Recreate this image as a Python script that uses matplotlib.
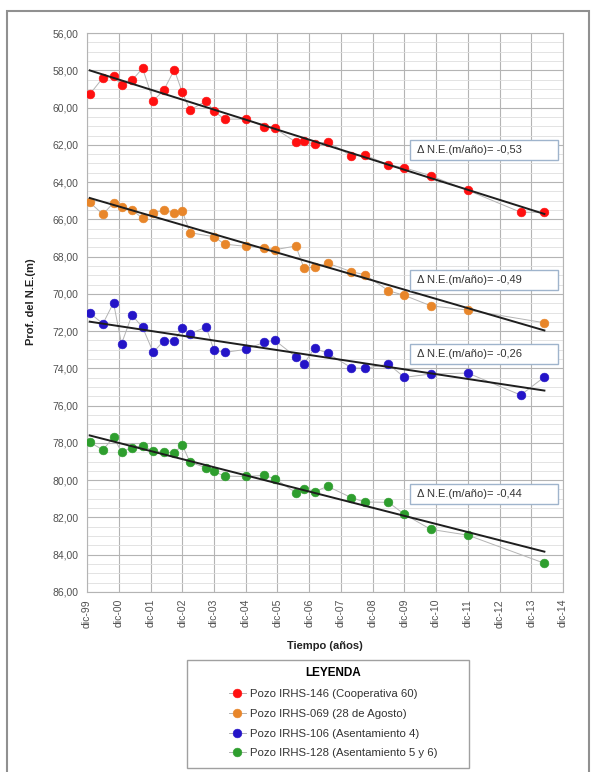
import numpy as np
import pandas as pd
import matplotlib
matplotlib.use('Agg')
import matplotlib.pyplot as plt
import matplotlib.dates as mdates
from matplotlib.patches import Rectangle
from matplotlib.ticker import FuncFormatter, MultipleLocator

plt.rcParams['font.family'] = ['Liberation Sans', 'DejaVu Sans']

# --- datos (profundidad del nivel estatico, m) ---
pozos = ["Pozo IRHS-146 (Cooperativa 60)",
         "Pozo IRHS-069 (28 de Agosto)",
         "Pozo IRHS-106 (Asentamiento 4)",
         "Pozo IRHS-128 (Asentamiento 5 y 6)"]
colores = ["#ff1010", "#e8862a", "#2414c8", "#2e9e2e"]
tasas = [-0.53, -0.49, -0.26, -0.44]

fechas_146 = ["2000-01", "2000-06", "2000-10", "2001-01", "2001-05", "2001-09", "2002-01",
              "2002-05", "2002-09", "2002-12", "2003-03", "2003-09", "2003-12", "2004-04",
              "2004-12", "2005-07", "2005-11", "2006-07", "2006-10", "2007-02", "2007-07",
              "2008-04", "2008-09", "2009-06", "2009-12", "2010-10", "2011-12", "2013-08",
              "2014-05"]
prof_146 = [59.29, 58.40, 58.31, 58.81, 58.54, 57.89, 59.63, 59.08, 57.97, 59.18, 60.13,
            59.65, 60.20, 60.62, 60.62, 61.03, 61.12, 61.85, 61.80, 61.97, 61.83, 62.60,
            62.55, 63.07, 63.23, 63.66, 64.44, 65.62, 65.62]

fechas_069 = ["2000-01", "2000-06", "2000-10", "2001-01", "2001-05", "2001-09", "2002-01",
              "2002-05", "2002-09", "2002-12", "2003-03", "2003-12", "2004-04", "2004-12",
              "2005-07", "2005-11", "2006-07", "2006-10", "2007-02", "2007-07", "2008-04",
              "2008-09", "2009-06", "2009-12", "2010-10", "2011-12", "2014-05"]
prof_069 = [65.09, 65.73, 65.11, 65.32, 65.48, 65.95, 65.65, 65.52, 65.65, 65.55, 66.72,
            66.93, 67.33, 67.45, 67.52, 67.63, 67.43, 68.60, 68.58, 68.35, 68.81, 68.97,
            69.83, 70.08, 70.64, 70.87, 71.55]

fechas_106 = ["2000-01", "2000-06", "2000-10", "2001-01", "2001-05", "2001-09", "2002-01",
              "2002-05", "2002-09", "2002-12", "2003-03", "2003-09", "2003-12", "2004-04",
              "2004-12", "2005-07", "2005-11", "2006-07", "2006-10", "2007-02", "2007-07",
              "2008-04", "2008-09", "2009-06", "2009-12", "2010-10", "2011-12", "2013-08",
              "2014-05"]
prof_106 = [71.03, 71.60, 70.48, 72.68, 71.14, 71.80, 73.14, 72.52, 72.53, 71.85, 72.14,
            71.78, 73.02, 73.14, 72.98, 72.60, 72.49, 73.38, 73.75, 72.92, 73.18, 73.97,
            74.00, 73.77, 74.48, 74.30, 74.25, 75.43, 74.46]

fechas_128 = ["2000-01", "2000-06", "2000-10", "2001-01", "2001-05", "2001-09", "2002-01",
              "2002-05", "2002-09", "2002-12", "2003-03", "2003-09", "2003-12", "2004-04",
              "2004-12", "2005-07", "2005-11", "2006-07", "2006-10", "2007-02", "2007-07",
              "2008-04", "2008-09", "2009-06", "2009-12", "2010-10", "2011-12", "2014-05"]
prof_128 = [77.97, 78.37, 77.70, 78.47, 78.26, 78.15, 78.44, 78.49, 78.54, 78.11, 79.04,
            79.33, 79.53, 79.78, 79.80, 79.74, 79.92, 80.67, 80.48, 80.62, 80.33, 80.94,
            81.17, 81.19, 81.83, 82.64, 82.95, 84.46]

series = [(fechas_146, prof_146), (fechas_069, prof_069),
          (fechas_106, prof_106), (fechas_128, prof_128)]

# posicion de los recuadros de tasa (fraccion de ejes)
cajas_y = [0.773, 0.540, 0.408, 0.157]

fig = plt.figure(figsize=(5.92, 7.72), dpi=100)
ax = fig.add_axes([0.147, 0.2332, 0.804, 0.724])

handles = []
for (fechas, prof), color, nombre in zip(series, colores, pozos):
    x = mdates.date2num(pd.to_datetime(fechas))
    y = np.array(prof)
    h, = ax.plot(x, y, color="#b4b4b4", lw=0.7, marker="o", ms=6.3,
                 mfc=color, mec=color, mew=0.4, label=nombre, zorder=3)
    handles.append(h)
    # tendencia lineal
    a, b = np.polyfit(x, y, 1)
    xt = np.array([x[0], x[-1]])
    ax.plot(xt, a * xt + b, color="#1e1e1e", lw=1.4, zorder=4)

for yb, tasa in zip(cajas_y, tasas):
    ax.add_patch(Rectangle((0.679, yb), 0.311, 0.036, transform=ax.transAxes,
                           facecolor="white", edgecolor="#9fb4cc", lw=1.0, zorder=5))
    ax.text(0.693, yb + 0.018, "Δ N.E.(m/año)= " + f"{tasa:.2f}".replace(".", ","),
            transform=ax.transAxes, fontsize=8, color="#333333", va="center", zorder=6)

ax.set_ylim(86, 56)
ax.set_xlim(mdates.date2num(pd.Timestamp("1999-12-01")),
            mdates.date2num(pd.Timestamp("2014-12-01")))
ax.yaxis.set_major_locator(MultipleLocator(2))
ax.yaxis.set_minor_locator(MultipleLocator(0.5))
ax.yaxis.set_major_formatter(FuncFormatter(lambda v, p: f"{v:.2f}".replace(".", ",")))
ax.xaxis.set_major_locator(mdates.MonthLocator(bymonth=12))
ax.xaxis.set_major_formatter(FuncFormatter(
    lambda v, p: "dic-" + mdates.num2date(v).strftime("%y")))

ax.grid(which="major", color="#b4b4b4", lw=0.8)
ax.grid(which="minor", axis="y", color="#dedede", lw=0.6)
ax.set_axisbelow(True)
for s in ax.spines.values():
    s.set_color("#b4b4b4")
    s.set_linewidth(0.8)
ax.tick_params(which="both", length=0, labelsize=7.5, labelcolor="#505050")
ax.tick_params(axis="y", pad=6)
ax.tick_params(axis="x", pad=5, labelrotation=90)

ax.set_ylabel("Prof. del N.E.(m)", fontsize=8, fontweight="bold", color="#222222")
ax.yaxis.set_label_coords(-0.108, 0.52)
ax.set_xlabel("Tiempo (años)", fontsize=8, fontweight="bold", color="#222222", labelpad=10)

# recuadro de la leyenda y marco exterior
fig.patches.append(Rectangle((187 / 592, 4 / 772), 282 / 592, 108 / 772,
                             transform=fig.transFigure, facecolor="none",
                             edgecolor="#a0a0a0", lw=1.0))
fig.patches.append(Rectangle((7 / 592, -0.05), 582 / 592, 1.05 - 11 / 772,
                             transform=fig.transFigure, facecolor="none",
                             edgecolor="#909090", lw=1.5))

leg = fig.legend(handles=handles, loc="upper center", bbox_to_anchor=(0.563, 0.146),
                 frameon=False, fontsize=8.2, title="LEYENDA", handlelength=1.5,
                 handletextpad=0.4, labelspacing=0.86, borderpad=0.2)
leg.get_title().set_fontweight("bold")
leg.get_title().set_fontsize(8.5)
for t in leg.get_texts():
    t.set_color("#333333")

fig.savefig("out.png", dpi=100)
